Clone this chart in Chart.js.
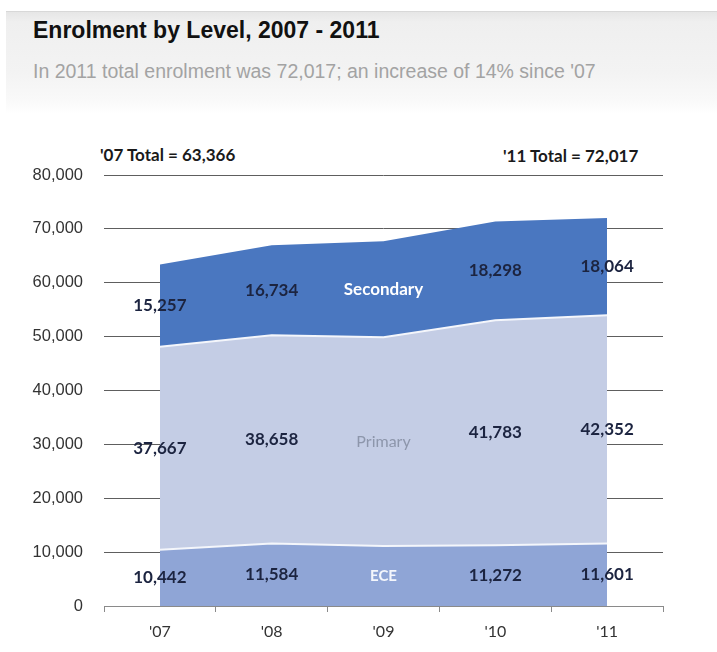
<!DOCTYPE html>
<html>
<head>
<meta charset="utf-8">
<script src="https://cdn.jsdelivr.net/npm/chart.js@4/dist/chart.umd.min.js"></script>
<style>
  html, body { margin: 0; padding: 0; background: #ffffff; width: 717px; height: 652px; overflow: hidden; }
  #wrap { position: relative; width: 717px; height: 652px; }
  #header { position: absolute; left: 6px; top: 11px; width: 711px; height: 102px;
    background: linear-gradient(to bottom, #e6e6e6 0px, #efefef 10px, #f3f3f3 60px, #f9f9f9 88px, #ffffff 102px);
    border-top: 1px solid #d8d8d8; }
  #title { position: absolute; left: 33px; top: 17px; font-family: "Liberation Sans", Arial, sans-serif;
    font-weight: bold; font-size: 23px; color: #111; white-space: nowrap; }
  #subtitle { position: absolute; left: 33px; top: 60px; font-family: "Liberation Sans", Arial, sans-serif;
    font-size: 19.5px; color: #a3a3a3; white-space: nowrap; }
  .note { position: absolute; font-family: Lato, "Open Sans", sans-serif; font-weight: bold; font-size: 17px; color: #1a1a1a; white-space: nowrap; }
  #note07 { left: 100px; top: 144px; }
  #note11 { left: 503px; top: 145px; }
  canvas { position: absolute; left: 0; top: 0; }
</style>
</head>
<body>
<div id="wrap">
  <div id="header"></div>
  <div id="title">Enrolment by Level, 2007 - 2011</div>
  <div id="subtitle">In 2011 total enrolment was 72,017; an increase of 14% since '07</div>
  <div class="note" id="note07">'07 Total = 63,366</div>
  <div class="note" id="note11">'11 Total = 72,017</div>
  <canvas id="c" width="717" height="652"></canvas>
</div>
<script>
// ---- data ----
const categories = ["'07", "'08", "'09", "'10", "'11"];
const seriesNames = ["ECE", "Primary", "Secondary"];
const eceValues = [10442, 11584, 11150, 11272, 11601];
const primaryValues = [37667, 38658, 38750, 41783, 42352];
const secondaryValues = [15257, 16734, 17800, 18298, 18064];
const yMax = 80000;
const yStep = 10000;
const nameCategory = "'09"; // category where series names are shown instead of values

const fmt = v => Number(v).toLocaleString('en-US');

const bandLabels = {
  id: 'bandLabels',
  afterDatasetsDraw(chart) {
    const ctx = chart.ctx;
    const xs = chart.scales.x, ys = chart.scales.y;
    const ds = chart.data.datasets;
    ctx.save();
    ctx.textAlign = 'center';
    ctx.textBaseline = 'middle';
    categories.forEach((cat, i) => {
      let below = 0;
      ds.forEach((d, k) => {
        const v = d.data[i];
        const y = ys.getPixelForValue(below + v / 2);
        const x = xs.getPixelForValue(i);
        below += v;
        if (cat === nameCategory) {
          const st = d.nameStyle;
          ctx.font = st.font;
          ctx.fillStyle = st.color;
          ctx.fillText(d.label, x, y);
        } else {
          ctx.font = 'bold 17px Lato, "Open Sans", sans-serif';
          ctx.fillStyle = '#1c2440';
          ctx.fillText(fmt(v), x, y);
        }
      });
    });
    ctx.restore();
  }
};

new Chart(document.getElementById('c'), {
  type: 'line',
  data: {
    labels: categories,
    datasets: [
      { label: seriesNames[0], data: eceValues, fill: 'origin',
        backgroundColor: '#8fa5d6', borderColor: '#f4f6fb', borderWidth: 2,
        nameStyle: { font: 'bold 15px Lato, sans-serif', color: '#f4f6fc' } },
      { label: seriesNames[1], data: primaryValues, fill: '-1',
        backgroundColor: '#c4cde5', borderColor: '#f4f6fb', borderWidth: 2,
        nameStyle: { font: '16px Lato, sans-serif', color: '#8d96ab' } },
      { label: seriesNames[2], data: secondaryValues, fill: '-1',
        backgroundColor: '#4a77c0', borderColor: '#4a77c0', borderWidth: 0,
        nameStyle: { font: 'bold 17px Lato, sans-serif', color: '#ffffff' } }
    ]
  },
  options: {
    responsive: false,
    animation: false,
    events: [],
    elements: { point: { radius: 0 }, line: { tension: 0 } },
    layout: { padding: { left: 0, top: 175, right: 54, bottom: 6 } },
    plugins: { legend: { display: false }, title: { display: false }, tooltip: { enabled: false } },
    scales: {
      x: {
        offset: true,
        afterFit(s) { s.height = 40; },
        grid: { display: true, offset: true, drawOnChartArea: false, drawTicks: true, tickLength: 6, color: '#8a8a8a' },
        border: { display: true, color: '#8a8a8a', width: 1 },
        ticks: { color: '#333', padding: 10, font: { family: 'Lato, "Open Sans", sans-serif', size: 16 } }
      },
      y: {
        stacked: true,
        min: 0, max: yMax,
        afterFit(s) { s.width = 104; },
        grid: { color: '#5e5e5e', lineWidth: 1, drawTicks: false },
        border: { display: false },
        ticks: { stepSize: yStep, padding: 21, color: '#333',
          font: { family: '"Liberation Sans", Arial, sans-serif', size: 16.5 },
          callback: v => fmt(v) }
      }
    }
  },
  plugins: [bandLabels]
});
</script>
</body>
</html>
